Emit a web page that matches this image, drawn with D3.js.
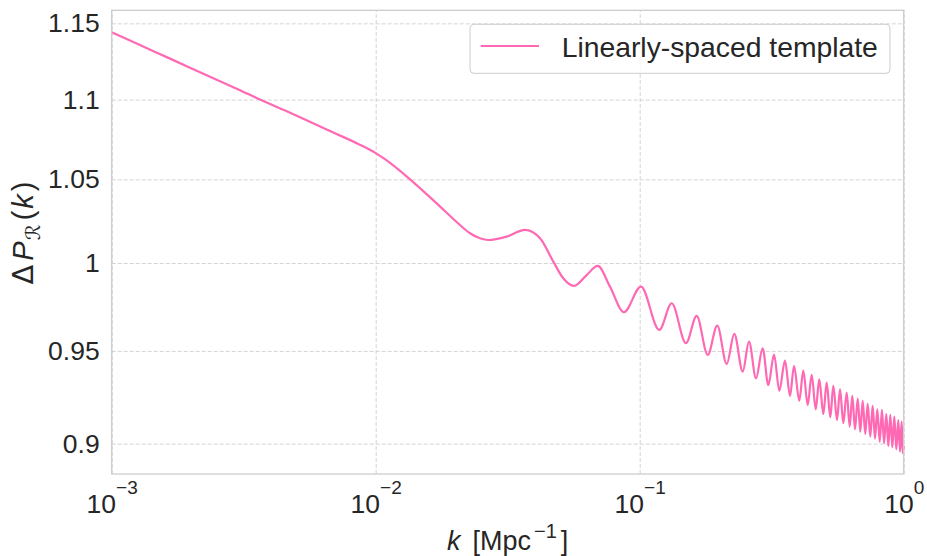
<!DOCTYPE html>
<html>
<head>
<meta charset="utf-8">
<script src="https://cdn.jsdelivr.net/npm/d3@7"></script>
<style>
  body { margin: 0; background: #ffffff; }
  svg { display: block; font-family: "Liberation Sans", Arial, sans-serif; }
</style>
</head>
<body>
<svg id="chart" width="927" height="556"></svg>
<script>
// wavenumber k [Mpc^-1]
const kValues = [
  0.001, 0.001261, 0.001688, 0.002257, 0.003017, 0.003645, 0.004806, 0.006813,
  0.00859, 0.01, 0.01084, 0.01349, 0.01702, 0.02086, 0.02276, 0.02484, 0.0267,
  0.03134, 0.03676, 0.04193, 0.04708, 0.05135, 0.05638, 0.06296, 0.06934,
  0.07718, 0.08718, 0.1011, 0.1186, 0.1322, 0.1497, 0.1644, 0.181, 0.1967,
  0.2136, 0.2282, 0.2456, 0.2594, 0.2758, 0.2923, 0.307, 0.3228, 0.338,
  0.3551, 0.371, 0.3842, 0.4023, 0.4166, 0.4329, 0.4482, 0.4642, 0.4789,
  0.496, 0.5108, 0.5272, 0.5413, 0.559, 0.5739, 0.5905, 0.6083, 0.6245,
  0.6388, 0.654, 0.6697, 0.6848, 0.6993, 0.7152, 0.7304, 0.7471, 0.763,
  0.7786, 0.7943, 0.8112, 0.8275, 0.8423, 0.8592, 0.8745, 0.8898, 0.9055,
  0.9213, 0.9375, 0.9539, 0.9683, 0.9826, 0.9913, 1.0
];

// primordial power spectrum ratio for the linearly-spaced template
const templateValues = [
  1.144, 1.136, 1.1261, 1.1162, 1.1065, 1.1, 1.0911, 1.0795,
  1.0719, 1.0662, 1.0624, 1.05, 1.0354, 1.0224, 1.0175, 1.0145, 1.0135,
  1.0155, 1.0195, 1.0145, 1.0008, 0.9911, 0.9867, 0.993, 0.9983,
  0.9863, 0.9717, 0.9863, 0.9617, 0.9768, 0.9543, 0.9696, 0.9478, 0.9641,
  0.9428, 0.9595, 0.9386, 0.9552, 0.935, 0.9515, 0.9313, 0.948, 0.9282,
  0.9446, 0.9254, 0.9417, 0.9229, 0.9391, 0.9205, 0.9369, 0.9182, 0.9344,
  0.9157, 0.9326, 0.914, 0.9308, 0.9125, 0.929, 0.9108, 0.9272, 0.909,
  0.9254, 0.9076, 0.9239, 0.9063, 0.9227, 0.9051, 0.9211, 0.9037, 0.92,
  0.9026, 0.9182, 0.901, 0.9179, 0.9002, 0.9157, 0.8988, 0.9152, 0.8981,
  0.9143, 0.8971, 0.9125, 0.8958, 0.9116, 0.895, 0.899
];

const xTickValues = [1e-3, 1e-2, 1e-1, 1];
const xTickExponents = ["\u22123", "\u22122", "\u22121", "0"];
const yTickValues = [0.9, 0.95, 1, 1.05, 1.1, 1.15];
const yTickLabels = ["0.9", "0.95", "1", "1.05", "1.1", "1.15"];
const seriesName = "Linearly-spaced template";

const lineColor = "#ff69b4";
const gridColor = "#d4d4d4";
const spineColor = "#cccccc";
const textColor = "#262626";
const tickFont = 26.5;

const svg = d3.select("#chart");
const plot = { left: 111.7, right: 903.7, top: 10.3, bottom: 474 };
const innerWidth = plot.right - plot.left;
const innerHeight = plot.bottom - plot.top;

const x = d3.scaleLog().domain([1e-3, 1]).range([plot.left, plot.right]);
const y = d3.scaleLog().domain([0.8842, 1.1588]).range([plot.bottom, plot.top]);

// grid
const grid = svg.append("g");
grid.append("g")
  .attr("transform", `translate(0,${plot.bottom})`)
  .call(d3.axisBottom(x).tickValues(xTickValues).tickSize(-innerHeight).tickFormat(""))
  .call(g => g.select(".domain").remove())
  .selectAll("line")
  .attr("stroke", gridColor)
  .attr("stroke-width", 1)
  .attr("stroke-dasharray", "4,2");

grid.append("g")
  .attr("transform", `translate(${plot.left},0)`)
  .call(d3.axisLeft(y).tickValues(yTickValues).tickSize(-innerWidth).tickFormat(""))
  .call(g => g.select(".domain").remove())
  .selectAll("line")
  .attr("stroke", gridColor)
  .attr("stroke-width", 1)
  .attr("stroke-dasharray", "4,2");

// data line
const line = d3.line()
  .x((d, i) => x(kValues[i]))
  .y(d => y(d))
  .curve(d3.curveMonotoneX);

svg.append("path")
  .datum(templateValues)
  .attr("fill", "none")
  .attr("stroke", lineColor)
  .attr("stroke-width", 2.2)
  .attr("stroke-linejoin", "round")
  .attr("d", line);

// spines
svg.append("rect")
  .attr("x", plot.left)
  .attr("y", plot.top)
  .attr("width", innerWidth)
  .attr("height", innerHeight)
  .attr("fill", "none")
  .attr("stroke", spineColor)
  .attr("stroke-width", 1.3);

// y axis labels
const yAxis = svg.append("g")
  .attr("transform", `translate(${plot.left},0)`)
  .call(d3.axisLeft(y).tickValues(yTickValues).tickSize(0).tickPadding(12)
    .tickFormat((d, i) => yTickLabels[i]));
yAxis.select(".domain").remove();
yAxis.selectAll("text")
  .attr("font-family", "Liberation Sans, Arial, sans-serif")
  .attr("font-size", tickFont)
  .attr("fill", textColor);

// x axis labels as powers of ten
const xAxis = svg.append("g")
  .attr("transform", `translate(0,${plot.bottom})`)
  .call(d3.axisBottom(x).tickValues(xTickValues).tickSize(0).tickFormat(""));
xAxis.select(".domain").remove();
xAxis.selectAll(".tick").each(function (d, i) {
  const t = d3.select(this).append("text")
    .attr("y", 39)
    .attr("text-anchor", "middle")
    .attr("font-size", tickFont)
    .attr("fill", textColor);
  t.append("tspan").text("10");
  t.append("tspan")
    .attr("font-size", 19)
    .attr("dy", -19)
    .text(xTickExponents[i]);
});

// axis titles
const xTitle = svg.append("text")
  .attr("x", (plot.left + plot.right) / 2)
  .attr("y", 550)
  .attr("text-anchor", "middle")
  .attr("font-size", 27)
  .attr("fill", textColor);
xTitle.append("tspan").attr("font-style", "italic").text("k");
xTitle.append("tspan").attr("dx", 12).text("[Mpc");
xTitle.append("tspan").attr("font-size", 20).attr("dx", 3).attr("dy", -12).text("\u22121");
xTitle.append("tspan").attr("dx", 4).attr("dy", 12).text("]");

const yTitle = svg.append("text")
  .attr("transform", `translate(33,233) rotate(-90)`)
  .attr("text-anchor", "middle")
  .attr("font-size", 29)
  .attr("fill", textColor);
yTitle.append("tspan").attr("font-family", "DejaVu Sans, sans-serif").text("\u0394");
yTitle.append("tspan").attr("font-style", "italic").attr("dx", 4).text("P");
yTitle.append("tspan")
  .attr("font-family", "DejaVu Sans, sans-serif")
  .attr("font-size", 20)
  .attr("dx", 1)
  .attr("dy", 7)
  .text("\u211B");
yTitle.append("tspan").attr("dx", 4).attr("dy", -7).text("(");
yTitle.append("tspan").attr("font-style", "italic").attr("dx", 2).text("k");
yTitle.append("tspan").attr("dx", 3).text(")");

// legend
const legend = svg.append("g").attr("transform", "translate(470,24.3)");
legend.append("rect")
  .attr("width", 420)
  .attr("height", 49)
  .attr("rx", 4)
  .attr("fill", "#ffffff")
  .attr("fill-opacity", 0.8)
  .attr("stroke", spineColor)
  .attr("stroke-width", 1);
legend.append("line")
  .attr("x1", 10.7)
  .attr("x2", 69)
  .attr("y1", 21.7)
  .attr("y2", 21.7)
  .attr("stroke", lineColor)
  .attr("stroke-width", 2.2);
legend.append("text")
  .attr("x", 91.7)
  .attr("y", 32.3)
  .attr("font-size", 28.3)
  .attr("fill", textColor)
  .text(seriesName);
</script>
</body>
</html>
